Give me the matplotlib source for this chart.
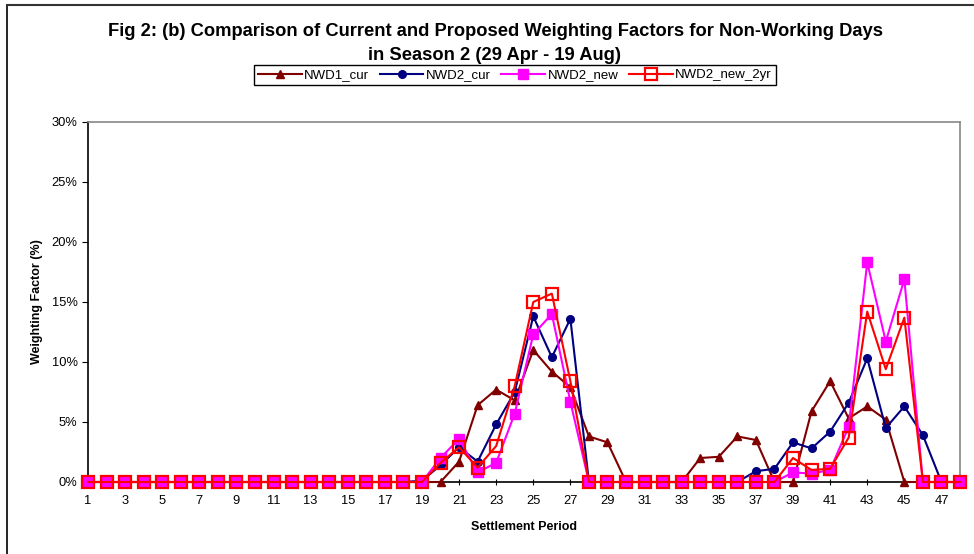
import numpy as np
import matplotlib
matplotlib.use('Agg')
import matplotlib.pyplot as plt
from matplotlib.ticker import PercentFormatter

plt.rcParams['font.family'] = ['Liberation Sans', 'DejaVu Sans']

periods = np.arange(1, 49)

# periods 1-19, then 20-29, 30-39, 40-48
nwd1_cur = ([0]*19
            + [0, 1.7, 6.4, 7.7, 6.8, 11.0, 9.2, 7.9, 3.8, 3.3]
            + [0, 0, 0, 0, 2.0, 2.1, 3.8, 3.5, 0, 0]
            + [5.9, 8.4, 5.3, 6.3, 5.2, 0, 0, 0, 0])
nwd2_cur = ([0]*18 + [0.1]
            + [1.4, 2.9, 1.7, 4.8, 7.5, 13.8, 10.4, 13.6, 0, 0]
            + [0, 0, 0, 0, 0, 0, 0, 0.9, 1.1, 3.3]
            + [2.8, 4.2, 6.6, 10.3, 4.5, 6.3, 3.9, 0, 0])
nwd2_new = ([0]*19
            + [2.0, 3.6, 0.8, 1.6, 5.7, 12.3, 14.0, 6.7, 0, 0]
            + [0, 0, 0, 0, 0, 0, 0, 0, 0, 0.8]
            + [0.7, 1.0, 4.6, 18.3, 11.7, 16.9, 0, 0, 0])
nwd2_new_2yr = ([0]*19
                + [1.6, 2.9, 1.2, 3.0, 8.0, 15.0, 15.7, 8.4, 0, 0]
                + [0, 0, 0, 0, 0, 0, 0, 0, 0, 2.0]
                + [1.0, 1.1, 3.7, 14.2, 9.4, 13.7, 0, 0, 0])

fig = plt.figure(figsize=(9.74, 5.54), dpi=100)

# outer chart border (only top/left visible in the reference)
fig.add_artist(plt.Line2D([7/974, 7/974], [0, 1-5/554], color='black', lw=1.2))
fig.add_artist(plt.Line2D([7/974, 1], [1-5/554, 1-5/554], color='#333333', lw=1.5))

ax = fig.add_axes([88/974, 72/554, 872/974, 360/554])

ax.plot(periods, nwd1_cur, color='#800000', lw=1.5, marker='^', ms=6,
        label='NWD1_cur', clip_on=False, zorder=3)
ax.plot(periods, nwd2_cur, color='#000080', lw=1.5, marker='o', ms=5.5,
        label='NWD2_cur', clip_on=False, zorder=4)
ax.plot(periods, nwd2_new, color='#FF00FF', lw=1.5, marker='s', ms=7.5,
        label='NWD2_new', clip_on=False, zorder=5)
ax.plot(periods, nwd2_new_2yr, color='#FF0000', lw=1.5, marker='s', ms=8,
        mfc='none', mew=1.6, label='NWD2_new_2yr', clip_on=False, zorder=6)

ax.set_xlim(1, 48)
ax.set_ylim(0, 30)
ax.set_xticks(np.arange(1, 48, 2))
ax.set_yticks(np.arange(0, 31, 5))
ax.yaxis.set_major_formatter(PercentFormatter(decimals=0))
ax.tick_params(axis='x', direction='inout', length=5, labelsize=9.3, pad=7)
ax.tick_params(axis='y', direction='out', length=4, labelsize=9.3)

for s in ['left', 'bottom']:
    ax.spines[s].set_color('black')
    ax.spines[s].set_linewidth(1.2)
for s in ['top', 'right']:
    ax.spines[s].set_color('#888888')
    ax.spines[s].set_linewidth(1.2)

ax.set_xlabel('Settlement Period', fontsize=9, fontweight='bold', labelpad=10)
ax.set_ylabel('Weighting Factor (%)', fontsize=9, fontweight='bold', labelpad=6)

fig.text(495/974, 1-32/554, 'Fig 2: (b) Comparison of Current and Proposed Weighting Factors for Non-Working Days',
         ha='center', va='center', fontsize=13.2, fontweight='bold')
fig.text(495/974, 1-56/554, 'in Season 2 (29 Apr - 19 Aug)',
         ha='center', va='center', fontsize=13.2, fontweight='bold')

leg = fig.legend(loc='center', bbox_to_anchor=(515/974, 1-75/554), ncol=4,
                 fontsize=9.5, frameon=True, fancybox=False, edgecolor='black',
                 handlelength=3.3, handletextpad=0.2, columnspacing=0.8,
                 borderpad=0.3, borderaxespad=0, framealpha=1)
leg.get_frame().set_linewidth(1.0)

fig.savefig('out.png', dpi=100)
